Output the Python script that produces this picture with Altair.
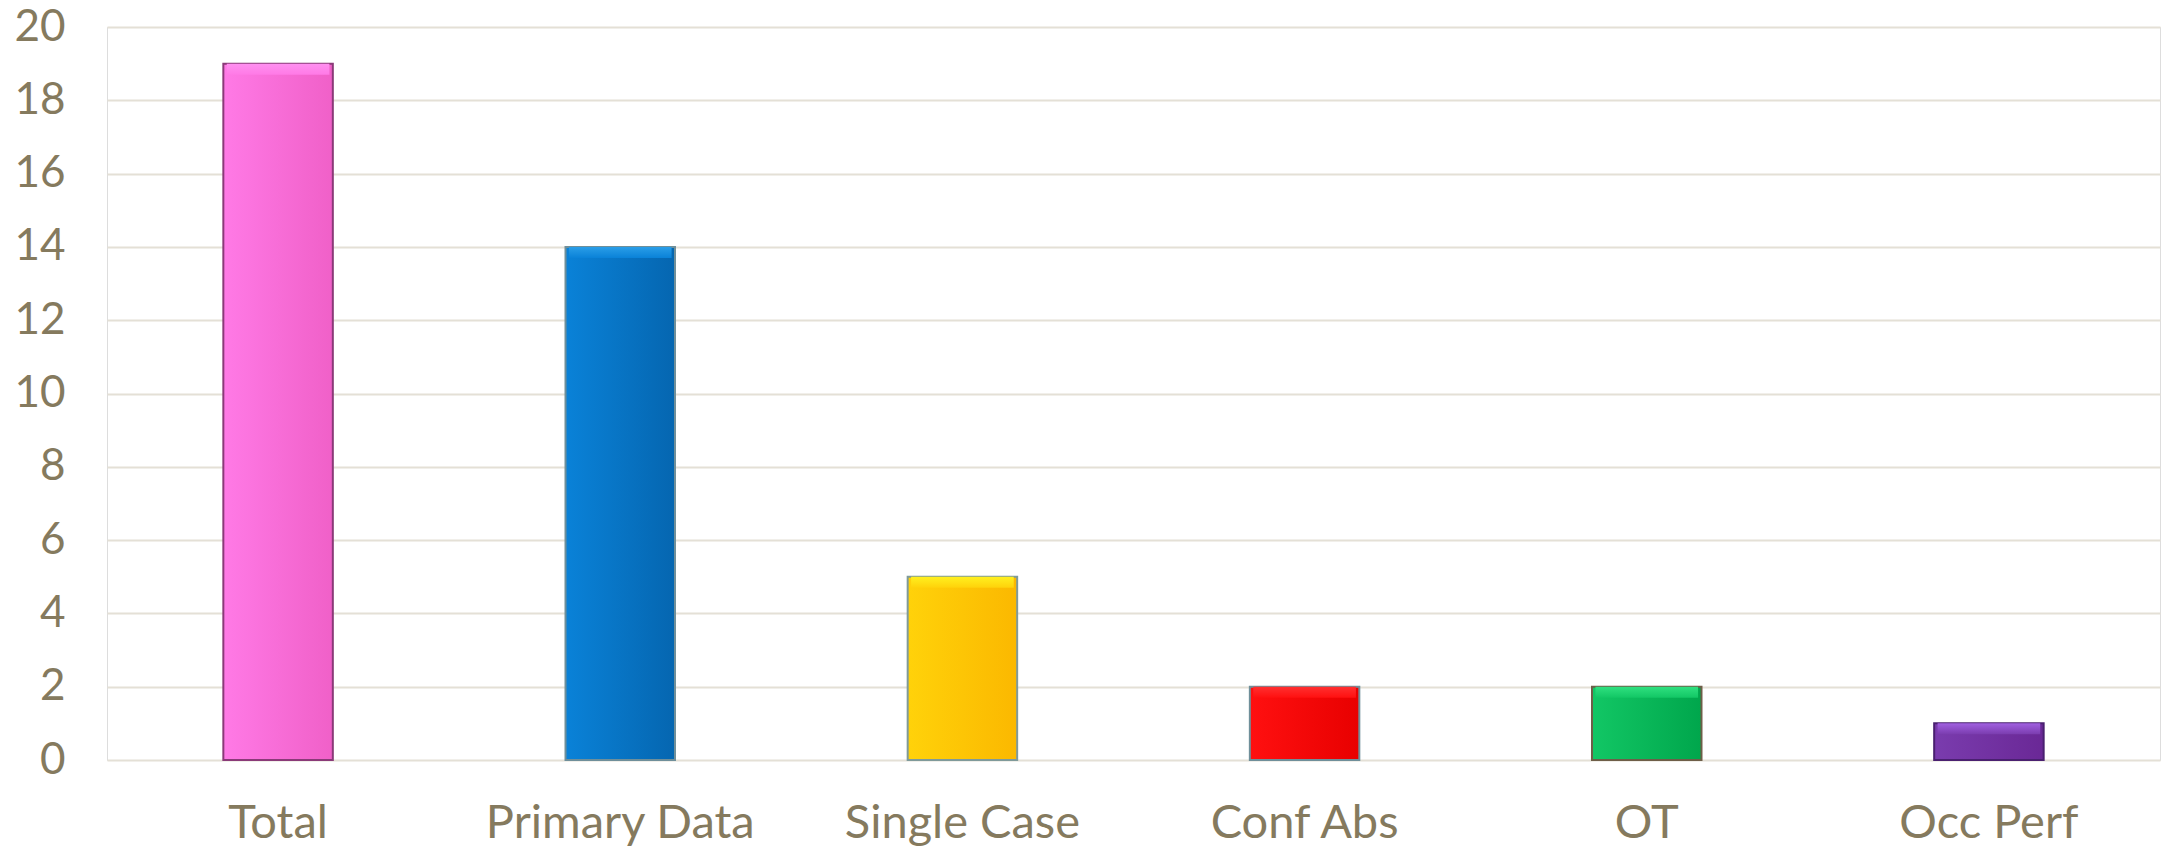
import altair as alt
import pandas as pd

categories = ["Total", "Primary Data", "Single Case", "Conf Abs", "OT", "Occ Perf"]
values = [19, 14, 5, 2, 2, 1]
light = ["#ff7ae6", "#0a82d8", "#ffd20a", "#ff1010", "#12c765", "#7a3cae"]
dark = ["#f060c8", "#0566b0", "#fbb800", "#e80000", "#00a64c", "#6a2896"]
top = ["#ff90f0", "#2a9ee8", "#fff020", "#ff3030", "#30e080", "#a060e0"]
edges = ["#8a3a78", "#6f8f9a", "#7f9a9a", "#6f8f9a", "#6e5e48", "#4a2070"]

df = pd.DataFrame({"cat": categories, "val": values})

x = alt.X("cat:N", sort=categories, title=None,
          scale=alt.Scale(paddingInner=0, paddingOuter=0),
          axis=alt.Axis(labelAngle=0, labelFont="Lato", labelFontSize=47,
                        labelColor="#857a5e", labelPadding=40, ticks=False,
                        domain=False, grid=False, labelLimit=0))
y = alt.Y("val:Q", title=None,
          scale=alt.Scale(domain=[0, 20]),
          axis=alt.Axis(values=list(range(0, 21, 2)), labelFont="Lato",
                        labelFontSize=44, labelColor="#857a5e", labelPadding=42,
                        ticks=False, domain=False, gridColor="#e4e0d6",
                        gridWidth=2))

layers = []
for c, l, d, t, e in zip(categories, light, dark, top, edges):
    base = alt.Chart(df).transform_filter(alt.datum.cat == c)
    layers.append(
        base.mark_bar(
            width=alt.RelativeBandSize(0.32),
            color=alt.Gradient(gradient="linear", x1=0, x2=1, y1=0, y2=0,
                               stops=[alt.GradientStop(color=l, offset=0),
                                      alt.GradientStop(color=d, offset=1)]),
            stroke=e, strokeWidth=2,
        ).encode(x=x, y=y)
    )
    layers.append(
        base.transform_calculate(lo="datum.val - 0.3").mark_bar(
            width=alt.RelativeBandSize(0.30),
            color=alt.Gradient(gradient="linear", x1=0, x2=0, y1=0, y2=1,
                               stops=[alt.GradientStop(color=t, offset=0),
                                      alt.GradientStop(color=l, offset=1)]),
            strokeWidth=0,
        ).encode(x=x, y=y, y2="lo:Q")
    )

chart = alt.layer(*layers).properties(
    width=2053, height=733,
    autosize=alt.AutoSizeParams(type="none"),
    padding={"left": 107, "top": 27, "right": 5, "bottom": 89},
).configure_view(stroke=None).configure(background="white")

chart.save("out.html", embed_options={"renderer": "svg", "actions": False})
